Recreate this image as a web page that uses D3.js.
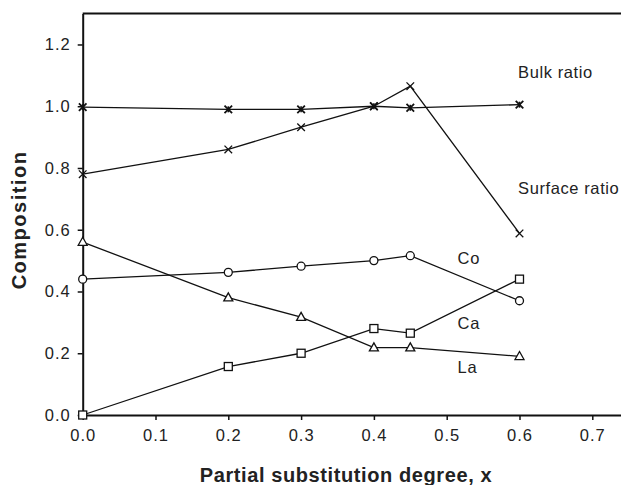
<!DOCTYPE html>
<html><head><meta charset="utf-8">
<script src="https://cdn.jsdelivr.net/npm/d3@7"></script>
<style>
body{margin:0;background:#fff;}
svg{display:block;}
text{font-family:"Liberation Sans",Arial,Helvetica,sans-serif;fill:#222;}
</style></head>
<body><svg id="chart" width="621" height="485"></svg>
<script>
const xValues = [0, 0.2, 0.3, 0.4, 0.45, 0.6];
const bulkRatio = [0.997, 0.99, 0.99, 1.0, 0.995, 1.005];
const surfaceRatio = [0.78, 0.86, 0.932, 1.0, 1.065, 0.588];
const coValues = [0.44, 0.462, 0.482, 0.5, 0.516, 0.37];
const laValues = [0.56, 0.38, 0.317, 0.218, 0.218, 0.19];
const caValues = [0.0, 0.157, 0.2, 0.28, 0.265, 0.44];
const xTicks = [0, 0.1, 0.2, 0.3, 0.4, 0.5, 0.6, 0.7];
const yTicks = [0, 0.2, 0.4, 0.6, 0.8, 1.0, 1.2];
const seriesNames = ["Bulk ratio", "Surface ratio", "Co", "Ca", "La"];

const series = [
  {name: seriesNames[0], values: bulkRatio, marker: "star", label: {x: 0.598, y: 1.09}},
  {name: seriesNames[1], values: surfaceRatio, marker: "x", label: {x: 0.598, y: 0.715}},
  {name: seriesNames[2], values: coValues, marker: "circle", label: {x: 0.515, y: 0.49}},
  {name: seriesNames[3], values: caValues, marker: "square", label: {x: 0.515, y: 0.278}},
  {name: seriesNames[4], values: laValues, marker: "triangle", label: {x: 0.515, y: 0.135}}
];

const svg = d3.select("#chart");
const x = d3.scaleLinear().domain([0, 0.75]).range([82.7, 628.7]);
const y = d3.scaleLinear().domain([0, 1.3]).range([415, 13.6]);

// top frame line
svg.append("line").attr("x1", x(0)).attr("x2", x(0.75)).attr("y1", y(1.3)).attr("y2", y(1.3))
  .attr("stroke", "#111").attr("stroke-width", 2);

const xAxis = svg.append("g").attr("transform", `translate(0,${y(0)})`)
  .call(d3.axisBottom(x).tickValues(xTicks).tickFormat(d3.format(".1f")).tickSize(5).tickPadding(9).tickSizeOuter(0));
const yAxis = svg.append("g").attr("transform", `translate(${x(0)},0)`)
  .call(d3.axisLeft(y).tickValues(yTicks).tickFormat(d3.format(".1f")).tickSize(5).tickPadding(7).tickSizeOuter(0));
[xAxis, yAxis].forEach(g => {
  g.select(".domain").attr("stroke", "#111").attr("stroke-width", 2);
  g.selectAll(".tick line").attr("stroke", "#111").attr("stroke-width", 1.5);
  g.selectAll(".tick text").attr("font-size", 16.5).attr("fill", "#222")
    .style("letter-spacing", "1px").attr("font-family", "'Liberation Sans',Arial,sans-serif");
});

const line = d3.line().x((d, i) => x(xValues[i])).y(d => y(d));
const plot = svg.append("g");
series.forEach(s => {
  plot.append("path").datum(s.values).attr("d", line)
    .attr("fill", "none").attr("stroke", "#111").attr("stroke-width", 1.3);
});

series.forEach(s => {
  const g = plot.append("g");
  s.values.forEach((v, i) => {
    const cx = x(xValues[i]), cy = y(v);
    const m = g.append("g").attr("transform", `translate(${cx},${cy})`);
    if (s.marker === "x" || s.marker === "star") {
      const r = 3.8;
      m.append("path").attr("d", `M${-r},${-r}L${r},${r}M${-r},${r}L${r},${-r}`)
        .attr("stroke", "#111").attr("stroke-width", s.marker === "star" ? 1.8 : 1.3).attr("fill", "none");
      if (s.marker === "star") {
        m.append("path").attr("d", `M0,${-3}L0,${3}`).attr("stroke", "#111").attr("stroke-width", 1.6);
      }
    } else if (s.marker === "circle") {
      m.append("circle").attr("r", 4).attr("fill", "#fff").attr("stroke", "#111").attr("stroke-width", 1.3);
    } else if (s.marker === "square") {
      m.append("rect").attr("x", -4).attr("y", -4).attr("width", 8).attr("height", 8)
        .attr("fill", "#fff").attr("stroke", "#111").attr("stroke-width", 1.3);
    } else if (s.marker === "triangle") {
      m.append("path").attr("d", "M0,-4.8L4.5,3.2L-4.5,3.2Z")
        .attr("fill", "#fff").attr("stroke", "#111").attr("stroke-width", 1.3);
    }
  });
  svg.append("text").attr("x", x(s.label.x)).attr("y", y(s.label.y))
    .attr("font-size", 16.5).style("letter-spacing", "0.6px").text(s.name);
});

svg.append("text").attr("x", 346).attr("y", 482).attr("text-anchor", "middle")
  .attr("font-size", 20).attr("font-weight", "bold").attr("fill", "#111")
  .style("letter-spacing", "0.6px").text("Partial substitution degree, x");
svg.append("text").attr("transform", "translate(26,220) rotate(-90)").attr("text-anchor", "middle")
  .attr("font-size", 20).attr("font-weight", "bold").attr("fill", "#111")
  .style("letter-spacing", "1.5px").text("Composition");
</script></body></html>
